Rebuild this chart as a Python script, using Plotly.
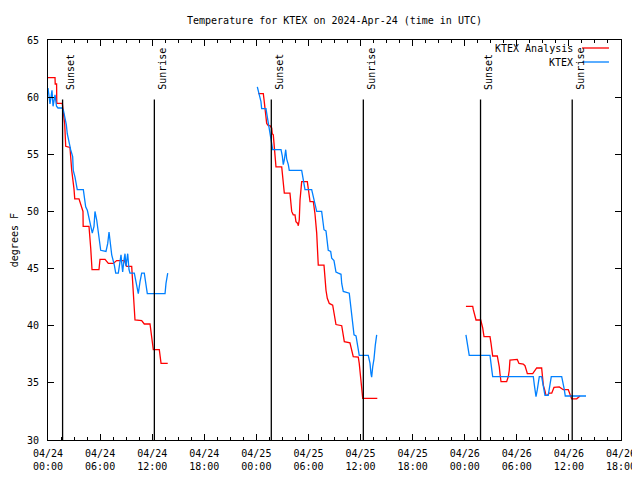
import pandas as pd
import plotly.graph_objects as go

BASE = pd.Timestamp("2024-04-24 00:00")

# Hours since 2024-04-24 00:00 UTC, and temperature in degrees F
analysis_hours = [
    # 04/24
    0.00, 0.81, 0.83, 0.99, 1.01, 1.65, 1.92, 2.04, 2.53, 2.73, 2.99, 3.08, 3.57, 4.03, 4.05,
    4.72, 4.92, 5.07, 5.87, 5.99, 6.57, 6.95, 7.52, 7.91, 8.79, 9.06, 9.64, 9.83, 10.02, 10.79,
    11.09, 11.75, 11.94, 12.13, 12.82, 13.02, 13.79, None,
    # 04/25
    24.22, 24.80, 24.88, 24.99, 25.11, 25.19, 25.37, 25.57, 25.77, 25.83, 25.95, 26.07, 26.15,
    26.26, 26.92, 27.03, 27.10, 27.22, 27.87, 27.99, 28.07, 28.25, 28.45, 28.56, 28.76, 28.83,
    28.94, 29.03, 29.11, 29.22, 29.87, 29.98, 30.10, 30.18, 30.56, 30.75, 30.95, 31.02, 31.13,
    31.79, 31.91, 32.02, 32.17, 32.40, 32.79, 32.98, 33.17, 33.83, 33.94, 34.13, 34.78, 34.98,
    35.16, 35.74, 35.85, 36.02, 36.13, 36.25, 37.93, None,
    # 04/26
    48.14, 48.92, 48.99, 49.18, 49.30, 49.84, 49.95, 50.07, 50.22, 50.91, 51.03, 51.14, 51.22,
    51.75, 51.86, 51.98, 52.06, 52.18, 52.83, 53.02, 53.13, 53.21, 54.05, 54.25, 54.74, 54.94,
    55.14, 55.21, 55.83, 56.09, 56.29, 56.86, 56.98, 57.05, 57.24, 57.36, 57.51, 57.74, 58.02,
    58.13, 58.28, 58.89, 59.17, 59.35, 59.93, 60.05, 60.21, 60.32, 60.90, 61.08, 61.28,
]
analysis_temp = [
    61.7, 61.7, 61.15, 61.15, 59.45, 59.45, 57.7, 55.7, 55.6, 53.6, 52.0, 51.1, 51.1, 50.0, 48.7,
    48.7, 46.8, 44.9, 44.9, 45.8, 45.8, 45.45, 45.45, 45.7, 45.7, 45.2, 45.2, 42.8, 40.5, 40.45,
    40.15, 40.15, 38.9, 37.9, 37.9, 36.7, 36.7, None,
    60.3, 60.3, 59.8, 58.9, 58.3, 57.7, 57.5, 57.5, 57.3, 56.8, 56.7, 55.4, 54.5,
    53.9, 53.9, 53.0, 52.2, 51.6, 51.6, 50.7, 50.0, 49.7, 49.7, 49.1, 48.95, 48.75,
    49.25, 51.0, 51.9, 52.6, 52.6, 51.9, 51.45, 50.85, 50.85, 49.8, 48.1, 46.3, 45.3,
    45.3, 44.0, 43.1, 42.4, 41.95, 41.8, 40.9, 40.1, 40.0, 39.3, 38.6, 38.5, 37.9,
    37.3, 37.25, 36.7, 35.4, 34.2, 33.65, 33.65, None,
    41.7, 41.7, 41.4, 40.8, 40.5, 40.5, 40.2, 39.8, 39.05, 39.05, 38.45, 37.7, 37.35,
    37.35, 37.0, 36.4, 35.8, 35.1, 35.1, 35.55, 36.1, 37.0, 37.05, 36.7, 36.65, 36.5,
    36.0, 35.8, 35.8, 36.1, 36.3, 36.3, 35.55, 34.8, 34.3, 33.9, 33.9, 34.1, 34.1,
    34.4, 34.6, 34.65, 34.5, 34.4, 34.4, 34.1, 33.8, 33.6, 33.6, 33.7, 33.85,
]

obs_hours = [
    # 04/24
    0.00, 0.23, 0.46, 0.58, 0.81, 0.98, 1.15, 1.61, 1.76, 1.96, 2.11, 2.22, 2.42, 2.61, 2.84,
    2.91, 3.11, 3.26, 3.37, 4.07, 4.23, 4.34, 4.53, 4.72, 4.84, 5.10, 5.30, 5.41, 5.61, 5.79,
    5.99, 6.07, 6.68, 6.88, 7.03, 7.11, 7.26, 7.34, 7.64, 7.80, 8.10, 8.21, 8.41, 8.49, 8.60,
    8.75, 8.87, 8.98, 9.18, 9.33, 9.44, 9.94, 10.10, 10.29, 10.40, 10.60, 10.79, 11.09, 11.25,
    11.44, 13.48, 13.59, 13.79, None,
    # 04/25
    24.11, 24.34, 24.53, 24.61, 25.11, 25.19, 25.31, 25.49, 25.57, 25.65, 25.77, 25.88, 26.84,
    26.99, 27.10, 27.22, 27.38, 27.49, 27.68, 27.79, 29.22, 29.41, 29.60, 30.37, 30.56, 30.75,
    30.95, 31.52, 31.64, 31.79, 32.02, 32.17, 32.28, 32.56, 32.68, 32.94, 33.02, 33.17, 33.44,
    33.75, 33.83, 34.01, 34.70, 34.78, 34.98, 35.10, 35.25, 35.48, 35.63, 35.74, 35.85, 36.89,
    37.09, 37.20, 37.28, 37.40, 37.55, 37.70, 37.86, None,
    # 04/26
    48.14, 48.22, 48.33, 48.45, 48.52, 50.91, 51.03, 51.14, 51.22, 55.90, 56.02, 56.13, 56.21,
    56.36, 56.52, 56.59, 56.86, 56.98, 57.13, 57.24, 57.62, 57.82, 57.97, 59.17, 59.35, 59.47,
    59.58, 61.97,
]
obs_temp = [
    60.8, 59.4, 60.6, 59.2, 60.2, 59.2, 59.05, 59.05, 58.9, 58.3, 57.6, 56.8, 56.0, 55.4, 54.8,
    53.6, 53.0, 52.5, 51.9, 51.9, 51.0, 50.4, 50.1, 49.5, 49.0, 48.1, 48.7, 50.0, 49.25, 48.1,
    47.2, 46.6, 46.5, 47.2, 48.2, 47.5, 46.6, 46.2, 45.3, 44.6, 44.6, 45.3, 46.2, 45.5, 44.7,
    45.75, 46.3, 45.2, 46.3, 44.9, 44.6, 44.6, 44.0, 43.3, 42.8, 43.85, 44.6, 44.6, 43.7,
    42.8, 42.8, 43.7, 44.6, None,
    60.9, 60.2, 59.6, 59.0, 59.0, 58.6, 58.0, 57.3, 56.9, 56.4, 55.7, 55.4, 55.4,
    54.85, 54.1, 54.5, 55.4, 54.6, 54.1, 53.6, 53.6, 52.6, 51.9, 51.9, 51.3, 50.5,
    50.0, 50.0, 49.3, 48.4, 48.3, 47.5, 46.6, 46.5, 45.9, 45.7, 45.2, 44.7, 44.6,
    44.5, 43.7, 43.0, 42.85, 42.25, 40.8, 39.8, 39.2, 39.1, 38.45, 37.9, 37.4, 37.4,
    36.7, 35.8, 35.5, 36.4, 37.1, 38.3, 39.2, None,
    39.2, 38.8, 38.2, 37.7, 37.4, 37.4, 36.85, 36.0, 35.55, 35.55, 34.8, 34.4, 33.8,
    34.4, 35.25, 35.55, 35.55, 34.95, 34.4, 33.9, 33.9, 34.7, 35.55, 35.55, 35.0, 34.4,
    33.85, 33.85,
]

sun_event_hours = [1.68, 12.25, 25.72, 36.32, 49.82, 60.38]
sun_event_labels = ["Sunset", "Sunrise", "Sunset", "Sunrise", "Sunset", "Sunrise"]

tick_hours = list(range(0, 67, 6))
series_names = ["KTEX Analysis", "KTEX"]
series_colors = ["#ff0000", "#0080ff"]

y_min, y_max = 30, 65
sun_line_top = 59.8
sun_label_base = 60.45


def to_time(hours):
    return [None if h is None else BASE + pd.Timedelta(hours=h) for h in hours]


FONT = "DejaVu Sans Mono"
W, H = 632, 472   # page body has an 8px margin in the browser
fig = go.Figure()

fig.add_trace(go.Scatter(
    x=to_time(analysis_hours), y=analysis_temp, mode="lines",
    line=dict(color=series_colors[0], width=1.3), name=series_names[0],
    connectgaps=False, showlegend=False))
fig.add_trace(go.Scatter(
    x=to_time(obs_hours), y=obs_temp, mode="lines",
    line=dict(color=series_colors[1], width=1.3), name=series_names[1],
    connectgaps=False, showlegend=False))

# Sunrise / sunset markers
for h, lab in zip(sun_event_hours, sun_event_labels):
    t = BASE + pd.Timedelta(hours=h)
    fig.add_shape(type="line", xref="x", yref="y", x0=t, x1=t,
                  y0=y_min, y1=sun_line_top, line=dict(color="black", width=1.3))
    fig.add_annotation(x=t, y=sun_label_base, xref="x", yref="y", text=lab,
                       textangle=-90, showarrow=False, xanchor="left", yanchor="bottom",
                       xshift=0, font=dict(family=FONT, size=10, color="black"))

# Legend (gnuplot style: text right-aligned, sample line on the right)
legend_y = [0.98, 0.945]
for name, col, ly in zip(series_names, series_colors, legend_y):
    fig.add_annotation(x=0.92, y=ly, xref="paper", yref="paper", text=name,
                       showarrow=False, xanchor="right", yanchor="middle",
                       font=dict(family=FONT, size=10, color="black"))
    fig.add_shape(type="line", xref="paper", yref="paper", x0=0.932, x1=0.979,
                  y0=ly, y1=ly, line=dict(color=col, width=1.3))

# Y axis title
fig.add_annotation(x=-0.059, y=0.5, xref="paper", yref="paper", text="degrees F",
                   textangle=-90, showarrow=False, xanchor="center", yanchor="middle",
                   font=dict(family=FONT, size=10, color="black"))

tick_vals = [BASE + pd.Timedelta(hours=h) for h in tick_hours]
tick_text = [t.strftime("%m/%d<br>%H:%M") for t in tick_vals]

fig.update_layout(
    width=W, height=H,
    margin=dict(l=40, r=19, t=32, b=40, autoexpand=False),
    paper_bgcolor="white", plot_bgcolor="white",
    font=dict(family=FONT, size=10, color="black"),
    title=dict(text="Temperature for KTEX on 2024-Apr-24 (time in UTC)",
               x=0.5, xref="paper", xanchor="center", y=1 - 12 / H, yanchor="middle",
               font=dict(family=FONT, size=10, color="black")),
    showlegend=False,
)
fig.update_xaxes(
    range=[BASE, BASE + pd.Timedelta(hours=66)],
    tickvals=tick_vals, ticktext=tick_text,
    ticks="inside", ticklen=6, tickcolor="black",
    minor=dict(dtick=1.5 * 3600 * 1000, ticks="inside", ticklen=3, tickcolor="black"),
    showline=True, linecolor="black", linewidth=1, mirror="ticks",
    showgrid=False, zeroline=False, tickfont=dict(family=FONT, size=10),
    ticklabelstandoff=4, automargin=False,
)
fig.update_yaxes(
    range=[y_min, y_max], dtick=5, tick0=30,
    ticks="inside", ticklen=6, tickcolor="black",
    showline=True, linecolor="black", linewidth=1, mirror="ticks",
    showgrid=False, zeroline=False, tickfont=dict(family=FONT, size=10),
    ticklabelstandoff=6, automargin=False,
)

fig.write_html("out.html")
